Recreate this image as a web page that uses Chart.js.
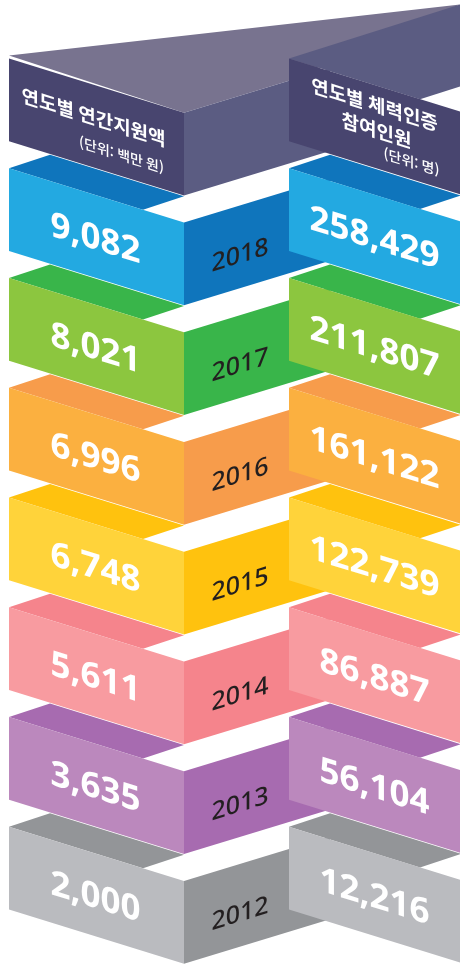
<!DOCTYPE html>
<html lang="ko">
<head>
<meta charset="utf-8">
<title>연도별 연간지원액 / 체력인증 참여인원</title>
<script src="https://cdn.jsdelivr.net/npm/chart.js@4/dist/chart.umd.min.js"></script>
<style>
  html, body { margin: 0; padding: 0; background: #fff; }
  #wrap { width: 460px; height: 964px; }
</style>
</head>
<body>
<div id="wrap"><canvas id="ribbonChart"></canvas></div>
<script>
"use strict";

/// DATA
const years = ['2018', '2017', '2016', '2015', '2014', '2013', '2012'];
const budget = [9082, 8021, 6996, 6748, 5611, 3635, 2000];
const participants = [258429, 211807, 161122, 122739, 86887, 56104, 12216];
const leftTitle = ['연도별 연간지원액'];
const leftUnit = '(단위: 백만 원)';
const rightTitle = ['연도별 체력인증', '참여인원'];
const rightUnit = '(단위: 명)';

/// COLORS, header row first
const frontColors = ['#48456f', '#23a9e1', '#8cc63f', '#fbb040', '#ffd33a', '#f89ba0', '#bb88bd', '#babbbf'];
const sideColors = ['#5b5c82', '#0f75bc', '#39b54a', '#f79c4b', '#ffc20e', '#f5848c', '#a76bb0', '#939598'];
const roofColor = '#78738f';

/// LAYOUT
const rows = ['header', ...years];
const barH = 82.6;
const slopeDown = 0.31;
const slopeUp = -0.305;

// x0: where the shear starts, lean: where the bar's left edge is pushed to
const faces = {
    leftFront: { x0: 9, k: slopeDown, yOff: 0 },
    rightFront: { x0: 289, k: slopeDown, yOff: 0 },
    leftTop: { x0: 9, k: slopeDown, yOff: 0, lean: [41, -13.5] },
    rightTop: { x0: 289, k: slopeDown, yOff: 0, lean: [41, -13.5], headerLean: [171, -54] },
    middle: { x0: 184, k: slopeUp, yOff: slopeDown * 175 }
};

const applyFace = (ctx, el, face, lean) => {
    const top = el.y - barH / 2;
    const cx = lean ? lean[0] / barH : 0;
    const dy = lean ? lean[1] / barH : 1;
    ctx.transform(1, face.k, cx, dy, -top * cx, top - face.k * face.x0 - top * dy + face.yOff);
};

const shearedText = (ctx, el, face, text, dx, dy, font, color, align) => {
    ctx.save();
    applyFace(ctx, el, face);
    ctx.font = font;
    ctx.fillStyle = color;
    ctx.textAlign = align || 'center';
    ctx.textBaseline = 'middle';
    ctx.fillText(text, (el.base + el.x) / 2 + dx, el.y + dy);
    ctx.restore();
};

const ribbonPlugin = {
    id: 'ribbon',
    // the big roof behind the header row
    beforeDatasetsDraw(chart) {
        const el = chart.getDatasetMeta(0).data[0];
        const top = el.y - barH / 2;
        const corner = top + slopeDown * (el.x - el.base);
        const ctx = chart.ctx;
        ctx.save();
        ctx.fillStyle = roofColor;
        ctx.beginPath();
        ctx.moveTo(el.base, top - 3);
        ctx.lineTo(el.x, corner);
        ctx.lineTo(289, corner + slopeUp * 105);
        ctx.lineTo(chart.width, top - 54);
        ctx.closePath();
        ctx.fill();
        ctx.restore();
    },
    // every bar gets sheared on its own, the default draw is skipped
    beforeDatasetDraw(chart, args) {
        const ctx = chart.ctx;
        const face = faces[chart.data.datasets[args.index].faceName];
        args.meta.data.forEach((el, i) => {
            if (el.skip) return;
            ctx.save();
            applyFace(ctx, el, face, i === 0 && face.headerLean ? face.headerLean : face.lean);
            el.draw(ctx);
            ctx.restore();
        });
        return false;
    },
    afterDatasetsDraw(chart) {
        const ctx = chart.ctx;
        const leftBars = chart.getDatasetMeta(0).data;
        const rightBars = chart.getDatasetMeta(1).data;
        const midBars = chart.getDatasetMeta(4).data;
        const valueFont = '700 35px "Noto Sans", "Open Sans", sans-serif';
        const yearFont = '500 25px "Noto Sans", "Open Sans", sans-serif';
        const titleFont = '700 19px "Noto Sans CJK KR", sans-serif';
        const unitFont = '500 14px "Noto Sans CJK KR", sans-serif';

        years.forEach((year, i) => {
            const color = '#fff';
            shearedText(ctx, leftBars[i + 1], faces.leftFront, budget[i].toLocaleString('en-US'), -1, 3, valueFont, color);
            shearedText(ctx, rightBars[i + 1], faces.rightFront, participants[i].toLocaleString('en-US'), 0, 3, valueFont, color);
            shearedText(ctx, midBars[i + 1], faces.middle, year, -17, 9, yearFont, '#231f20');
        });

        shearedText(ctx, leftBars[0], faces.leftFront, leftTitle[0], -3, -9, titleFont, '#fff');
        shearedText(ctx, leftBars[0], faces.leftFront, leftUnit, 25, 20, unitFont, '#fff');
        shearedText(ctx, rightBars[0], faces.rightFront, rightTitle[0], 0, -22, titleFont, '#fff');
        shearedText(ctx, rightBars[0], faces.rightFront, rightTitle[1], 2, 3, titleFont, '#fff');
        shearedText(ctx, rightBars[0], faces.rightFront, rightUnit, 37, 24, unitFont, '#fff');
    }
};

const makeFace = (faceName, from, to, colors, skipHeader) => ({
    faceName: faceName,
    data: rows.map((r, i) => (skipHeader && i === 0 ? null : [from, to])),
    backgroundColor: colors,
    borderWidth: 0,
    inflateAmount: 0,
    barThickness: barH,
    clip: false
});

/// CHART
new Chart(document.getElementById('ribbonChart'), {
    type: 'bar',
    data: {
        labels: rows,
        // first dataset ends up on top
        datasets: [
            makeFace('leftFront', 9, 184, frontColors),
            makeFace('rightFront', 289, 460, frontColors),
            makeFace('leftTop', 9, 143, sideColors, true),
            makeFace('rightTop', 289, 420, sideColors),
            makeFace('middle', 184, 330, sideColors)
        ]
    },
    options: {
        indexAxis: 'y',
        responsive: true,
        maintainAspectRatio: false,
        animation: false,
        layout: { padding: { top: 45, bottom: 41, left: 0, right: 0 } },
        plugins: {
            legend: { display: false },
            tooltip: { enabled: false },
            title: { display: false }
        },
        scales: {
            x: { type: 'linear', min: 0, max: 460, display: false, stacked: false },
            y: { type: 'category', display: false, stacked: true }
        }
    },
    plugins: [ribbonPlugin]
});
</script>
</body>
</html>
